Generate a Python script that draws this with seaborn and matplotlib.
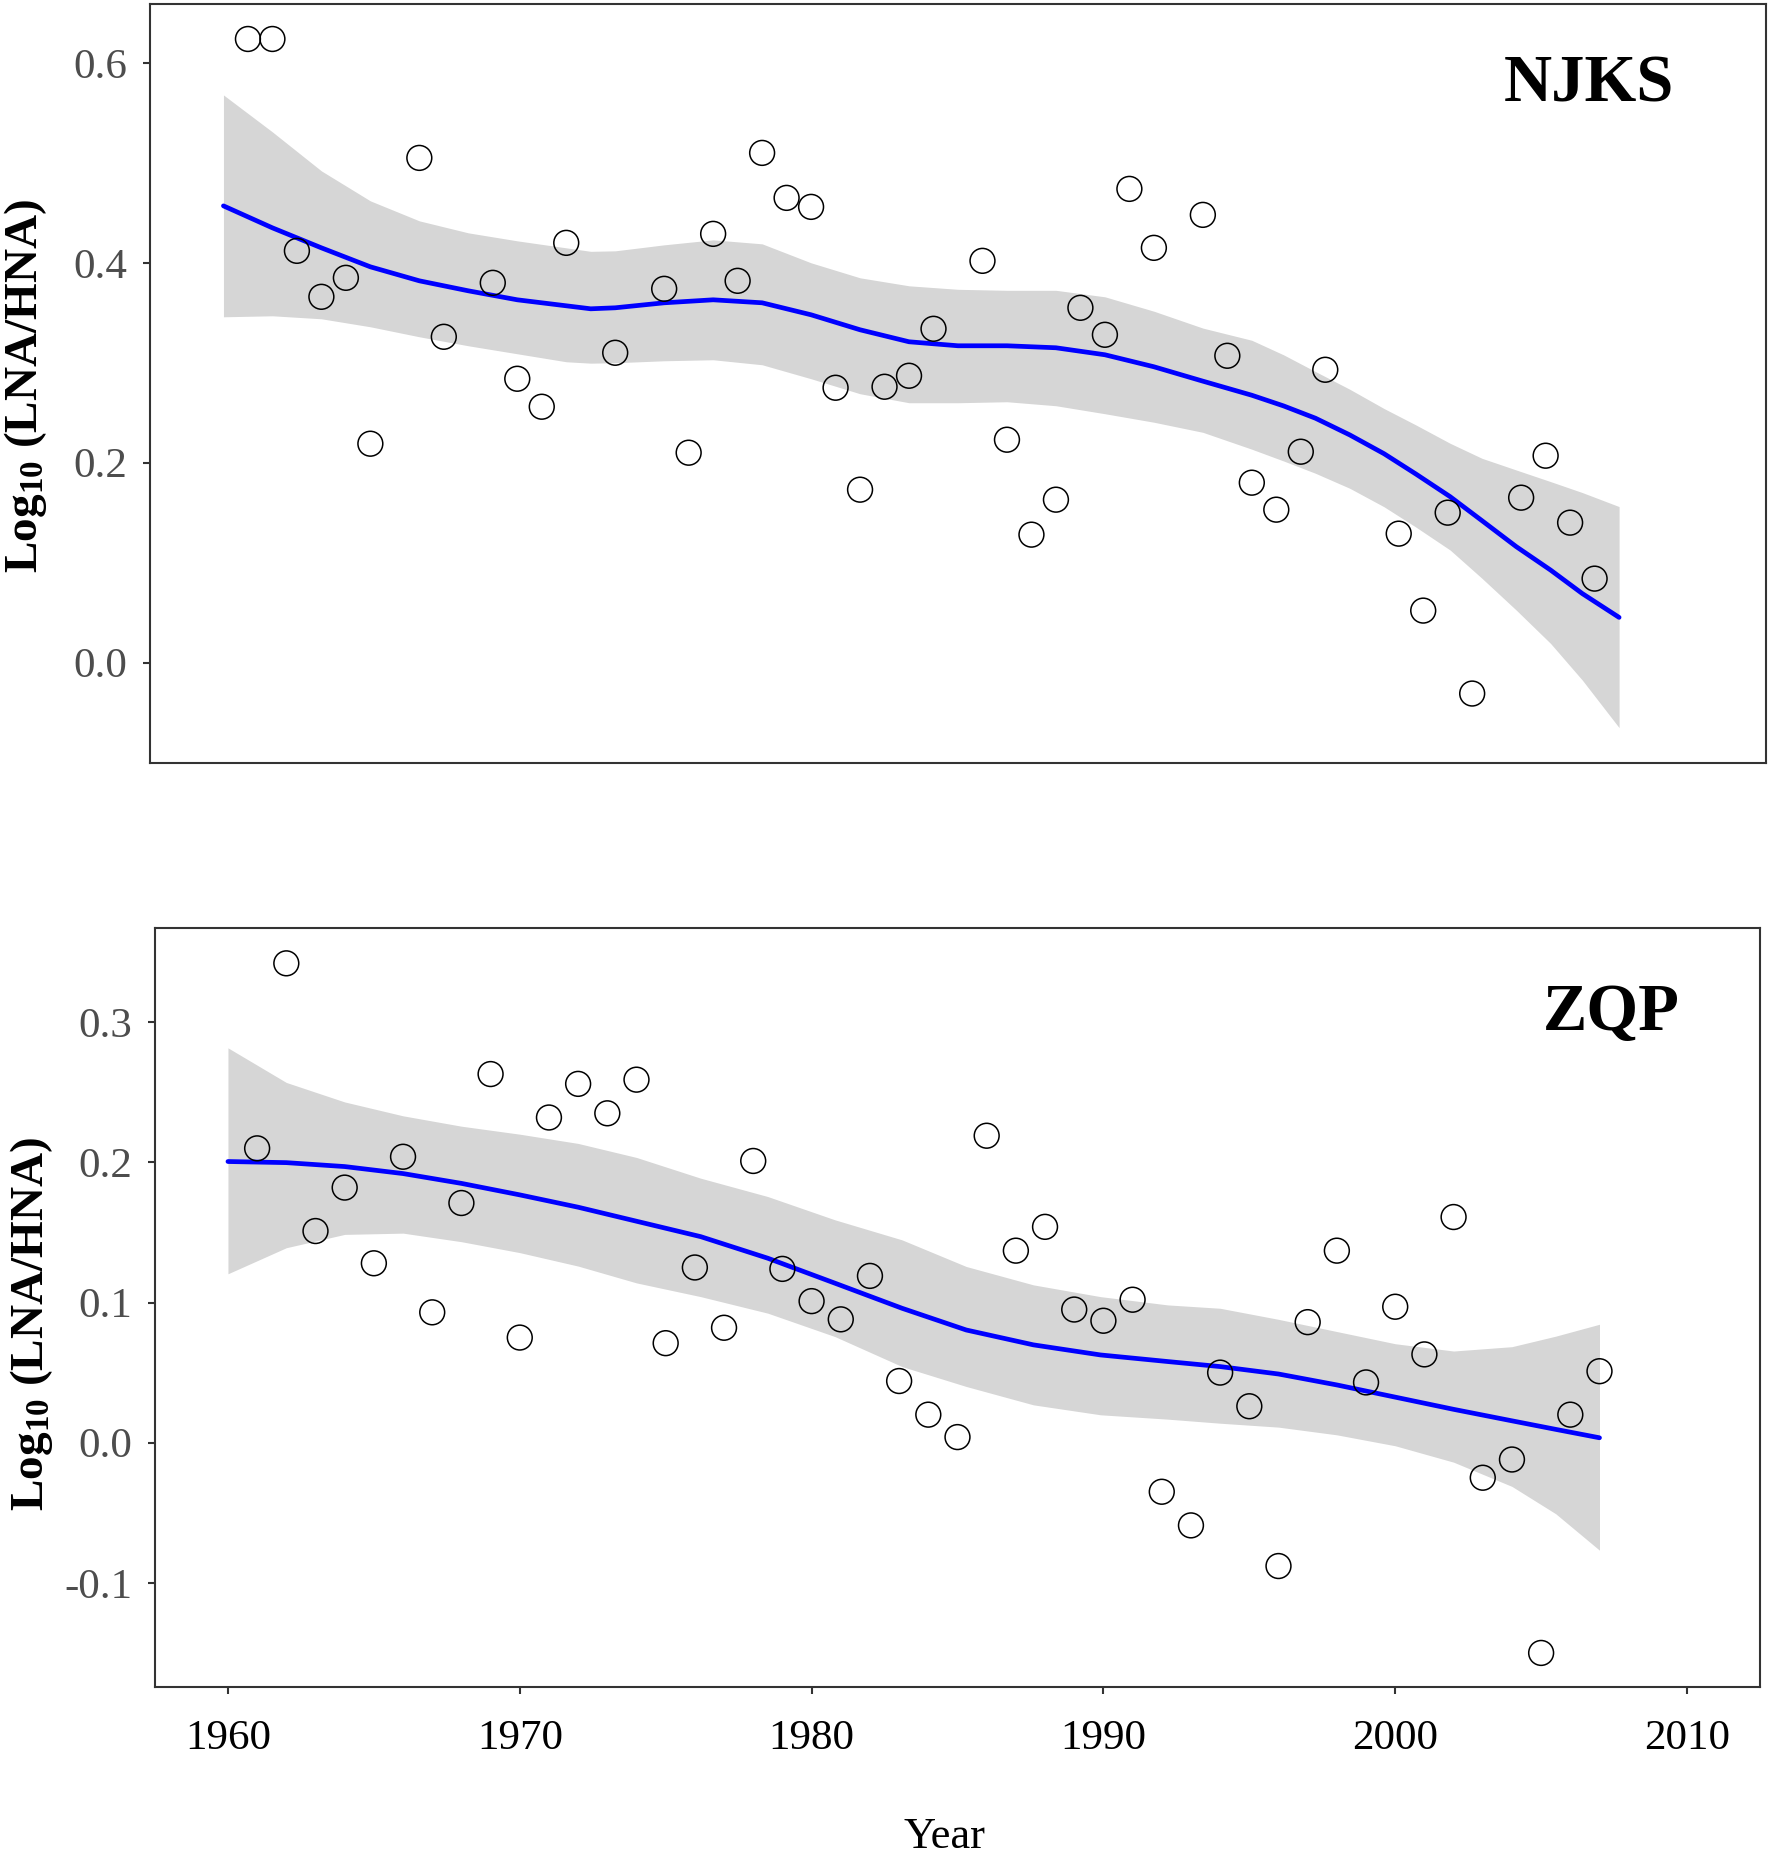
import numpy as np
import matplotlib
matplotlib.use("Agg")
import matplotlib.pyplot as plt
import seaborn as sns

# ---- NJKS (top panel) yearly observations
njks_years = [1961, 1962, 1963, 1964, 1965, 1966, 1968, 1969, 1971, 1972, 1973, 1974,
              1976, 1978, 1979, 1980, 1981, 1982, 1983, 1984, 1985, 1986, 1987, 1988,
              1989, 1991, 1992, 1993, 1994, 1995, 1996, 1997, 1998, 2000, 2001, 2002,
              2003, 2004, 2005, 2008, 2009, 2010, 2011, 2013, 2014, 2015, 2016]
njks_values = [0.624, 0.624, 0.412, 0.366, 0.385, 0.219, 0.505, 0.326, 0.380, 0.284, 0.256, 0.420,
               0.310, 0.374, 0.210, 0.429, 0.382, 0.510, 0.465, 0.456, 0.275, 0.173, 0.276, 0.287,
               0.334, 0.402, 0.223, 0.128, 0.163, 0.355, 0.328, 0.474, 0.415, 0.448, 0.307, 0.180,
               0.153, 0.211, 0.293, 0.129, 0.052, 0.150, -0.031, 0.165, 0.207, 0.140, 0.084]

# loess curve and its confidence band
njks_fit_years = [1960, 1962, 1964, 1966, 1968, 1970, 1972, 1974, 1975, 1976, 1978, 1980,
                  1982, 1984, 1986, 1988, 1990, 1992, 1994, 1996, 1998, 2000,
                  2002, 2003.3, 2004.6, 2006, 2007.4, 2008.7, 2010.1, 2011.4, 2012.8,
                  2014.2, 2015.5, 2017]
njks_fit = [0.457, 0.435, 0.415, 0.396, 0.382, 0.372, 0.363, 0.357, 0.354, 0.355, 0.360, 0.363,
            0.360, 0.348, 0.333, 0.321, 0.317, 0.317, 0.315, 0.308, 0.296, 0.2816,
            0.2675, 0.2568, 0.2445, 0.2278, 0.209, 0.1887, 0.166, 0.142, 0.116,
            0.0926, 0.069, 0.0452]
njks_upper = [0.568, 0.531, 0.492, 0.462, 0.442, 0.430, 0.422, 0.415, 0.4115, 0.412, 0.418, 0.423,
              0.419, 0.400, 0.385, 0.377, 0.3735, 0.3725, 0.3725, 0.366, 0.3516, 0.3347,
              0.3225, 0.3079, 0.2912, 0.2735, 0.2542, 0.2378, 0.2194, 0.2044, 0.1927,
              0.1811, 0.1701, 0.1561]
njks_lower = [0.346, 0.347, 0.344, 0.336, 0.326, 0.317, 0.309, 0.301, 0.2996, 0.300, 0.302, 0.303,
              0.298, 0.284, 0.269, 0.260, 0.260, 0.261, 0.257, 0.249, 0.2405, 0.2304,
              0.2135, 0.2017, 0.1894, 0.1744, 0.1559, 0.1356, 0.1126, 0.0843, 0.0525,
              0.0192, -0.0176, -0.0651]

# ---- ZQP (bottom panel) yearly observations
zqp_years = list(range(1961, 2008))
zqp_values = [0.210, 0.342, 0.151, 0.182, 0.128, 0.204, 0.093, 0.171, 0.263, 0.075, 0.232, 0.256,
              0.235, 0.259, 0.071, 0.125, 0.082, 0.201, 0.124, 0.101, 0.088, 0.119, 0.044, 0.020,
              0.004, 0.219, 0.137, 0.154, 0.095, 0.087, 0.102, -0.035, -0.059, 0.050, 0.026, -0.088,
              0.086, 0.137, 0.043, 0.097, 0.063, 0.161, -0.025, -0.012, -0.150, 0.020, 0.051]

zqp_fit_years = [1960, 1962, 1964, 1966, 1968, 1970, 1972, 1974, 1976.2, 1978.5, 1980.8,
                 1983.1, 1985.3, 1987.6, 1989.9, 1992.2, 1994, 1996, 1998, 2000, 2002,
                 2004, 2005.5, 2007]
zqp_fit = [0.2006, 0.1998, 0.197, 0.192, 0.185, 0.1768, 0.168, 0.158, 0.147, 0.1316, 0.1138,
           0.0959, 0.0804, 0.0698, 0.0626, 0.0579, 0.0543, 0.049, 0.0412, 0.0325, 0.0238,
           0.0156, 0.0095, 0.0035]
zqp_upper = [0.2817, 0.257, 0.2431, 0.2332, 0.2258, 0.2201, 0.2135, 0.2035, 0.1887, 0.1756, 0.159,
             0.1447, 0.1257, 0.1126, 0.1042, 0.0983, 0.0959, 0.088, 0.0793, 0.0706, 0.0654,
             0.0685, 0.076, 0.0845]
zqp_lower = [0.1205, 0.1391, 0.1486, 0.1495, 0.1434, 0.1356, 0.126, 0.114, 0.1042, 0.0924, 0.0757,
             0.0543, 0.0401, 0.027, 0.0199, 0.0168, 0.0139, 0.0111, 0.0056, -0.0022, -0.0139,
             -0.0312, -0.0507, -0.0767]

njks_yticks = [0.0, 0.2, 0.4, 0.6]
zqp_yticks = [-0.1, 0.0, 0.1, 0.2, 0.3]
zqp_xticks = [1960, 1970, 1980, 1990, 2000, 2010]

# Styling
sns.set_style("white")
plt.rcParams['font.family'] = ['Liberation Serif', 'DejaVu Serif']
plt.rcParams['mathtext.fontset'] = 'custom'
plt.rcParams['mathtext.rm'] = 'Liberation Serif'
plt.rcParams['mathtext.bf'] = 'Liberation Serif:bold'
plt.rcParams['mathtext.it'] = 'Liberation Serif:italic'

W, H = 1772, 1853
fig = plt.figure(figsize=(W / 100, H / 100), dpi=100)
fig.patch.set_facecolor('white')

ax_top = fig.add_axes([150 / W, 1 - 762.5 / H, (1766 - 150) / W, (762.5 - 4) / H])
ax_bot = fig.add_axes([155 / W, 1 - 1687 / H, (1760 - 155) / W, (1687 - 928) / H])


def draw_panel(ax, years, values, fit_years, fit, upper, lower, name):
    # confidence band, then the smooth, then open circles on top
    ax.fill_between(fit_years, lower, upper, color='#d6d6d6', linewidth=0, zorder=1)
    sns.lineplot(x=fit_years, y=fit, ax=ax, color='#0000ff', linewidth=3.4, zorder=2)
    sns.scatterplot(x=years, y=values, ax=ax, s=320, facecolor='none',
                    edgecolor='black', linewidth=1.1, zorder=3)

    for side in ['left', 'right', 'top', 'bottom']:
        ax.spines[side].set_visible(True)
        ax.spines[side].set_color('#333333')
        ax.spines[side].set_linewidth(1.5)

    ax.tick_params(axis='both', length=4.7, width=1.5, color='#333333', labelsize=31)
    ax.tick_params(axis='y', pad=11.5, left=True, labelcolor='#4d4d4d')
    ax.set_ylabel("Log$_{\\mathbf{10}}$ (LNA/HNA)", fontsize=34, fontweight='bold', color='black')
    ax.set_xlabel("")
    ax.text(0, 0, name, transform=ax.transAxes, ha='center', va='baseline',
            fontsize=48, fontweight='bold', color='black')
    return ax


draw_panel(ax_top, njks_years, njks_values, njks_fit_years, njks_fit,
           njks_upper, njks_lower, "NJKS")
draw_panel(ax_bot, zqp_years, zqp_values, zqp_fit_years, zqp_fit,
           zqp_upper, zqp_lower, "ZQP")

# panel label positions
ax_top.texts[0].set_position((0.8905, 0.8715))
ax_bot.texts[0].set_position((0.9075, 0.8655))

# top panel: no x axis ticks
ax_top.set_xlim(1957, 2023)
ax_top.set_ylim(-0.1, 0.659)
ax_top.set_yticks(njks_yticks)
ax_top.set_yticklabels([f"{v:.1f}" for v in njks_yticks])
ax_top.tick_params(axis='x', bottom=False, labelbottom=False)
ax_top.yaxis.set_label_coords(-0.0625, 0.497)

# bottom panel
ax_bot.set_xlim(1957.5, 2012.5)
ax_bot.set_ylim(-0.1743, 0.3672)
ax_bot.set_yticks(zqp_yticks)
ax_bot.set_yticklabels([f"{v:.1f}" for v in zqp_yticks])
ax_bot.set_xticks(zqp_xticks)
ax_bot.set_xticklabels([str(v) for v in zqp_xticks])
ax_bot.tick_params(axis='x', pad=19, bottom=True, labelcolor='black')
ax_bot.yaxis.set_label_coords(-0.0623, 0.478)

ax_bot.set_xlabel("Year", fontsize=32, color='black')
ax_bot.xaxis.label.set_va('baseline')
ax_bot.xaxis.set_label_coords(0.4916, -0.2121)

fig.savefig("out.png", dpi=100, facecolor='white')
